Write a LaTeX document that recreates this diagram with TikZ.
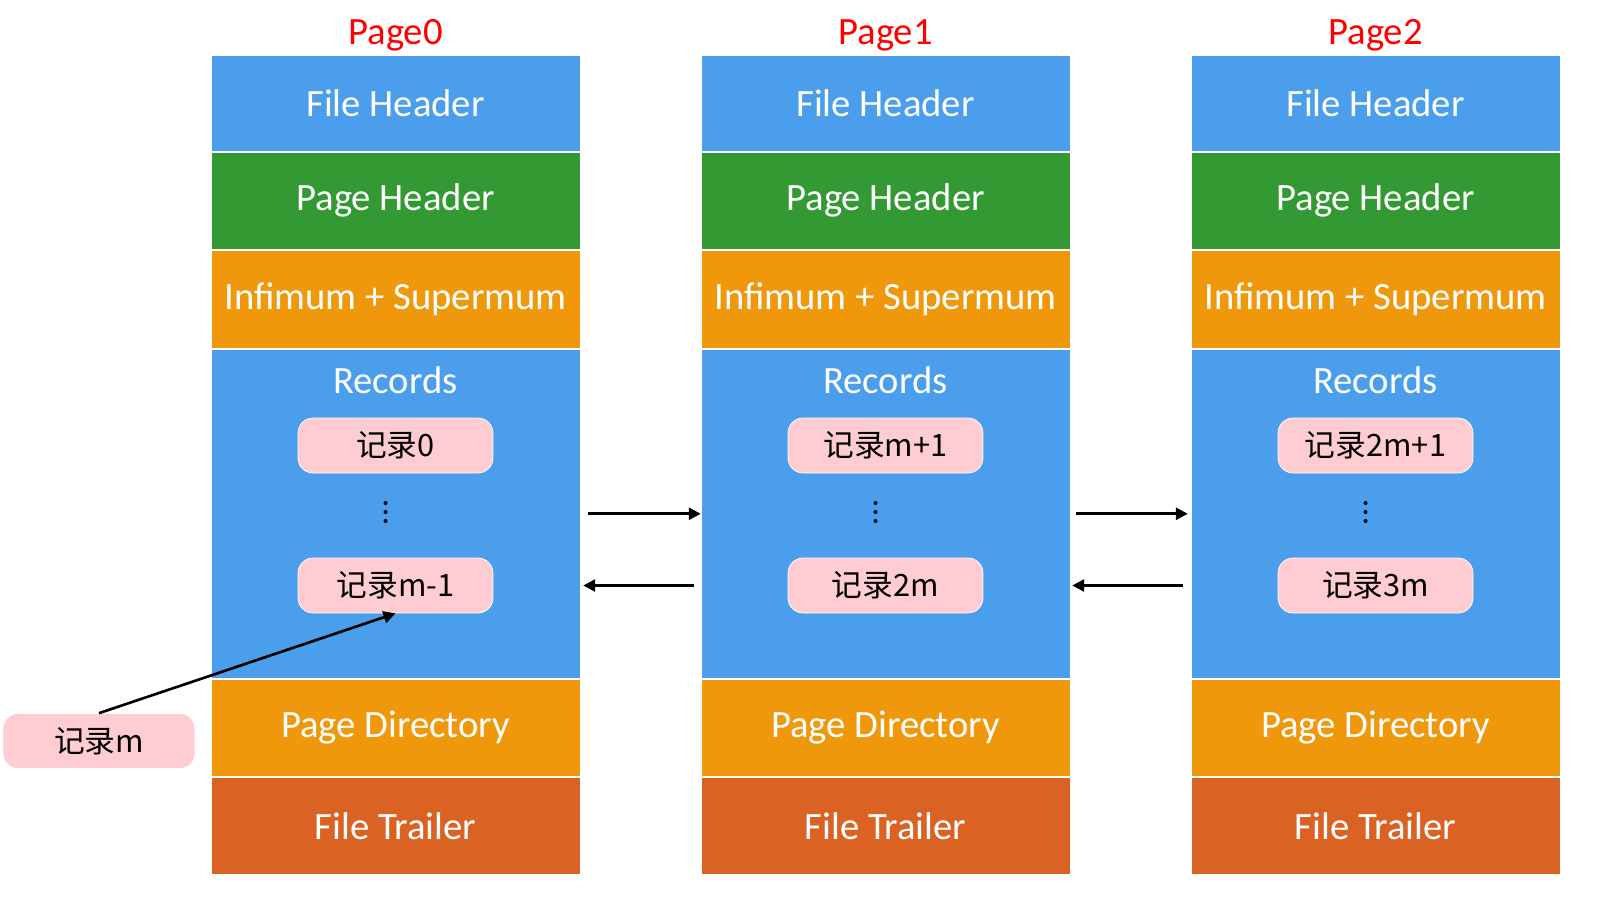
\documentclass[tikz,border=0pt]{standalone}
\usepackage{fontspec}
\setmainfont{Carlito}
\newfontfamily\cjk{Noto Sans CJK SC}
\usetikzlibrary{arrows.meta}

\definecolor{fhblue}{HTML}{4A9EEB}
\definecolor{phgreen}{HTML}{339933}
\definecolor{isorange}{HTML}{F0980C}
\definecolor{ftorange}{HTML}{DA6223}
\definecolor{recpink}{HTML}{FFCCD1}

\tikzset{
  block/.style={draw=white, line width=0.3pt, minimum width=7.38cm, inner sep=0pt,
    anchor=north, text=white, font=\fontsize{22}{26}\selectfont},
  recbox/.style={draw=white, line width=0.4pt, fill=recpink, rounded corners=0.3cm,
    minimum width=3.9cm, minimum height=1.1cm, inner sep=0pt,
    font=\cjk\fontsize{17.5}{20}\selectfont},
  link/.style={-{Triangle[length=0.24cm,width=0.24cm]}, line width=1.5pt}
}

\begin{document}
\begin{tikzpicture}[x=0.02cm, y=-0.02cm]
  \useasboundingbox (0,0) rectangle (1615,900);

  % three pages
  \foreach \i/\x/\ra/\rb in {0/395.5/记录0/记录m-1, 1/885.5/记录m+1/记录2m, 2/1375.5/记录2m+1/记录3m}{
    \node[text=red, font=\fontsize{22}{26}\selectfont] (pl\i) at (\x,35) {Page\i};
    \node[block, fill=fhblue, minimum height=1.92cm] (fh\i) at (\x,55) {File Header};
    \node[block, fill=phgreen, minimum height=1.96cm] (ph\i) at (fh\i.south) {Page Header};
    \node[block, fill=isorange, minimum height=1.96cm] (is\i) at (ph\i.south) {Infimum + Supermum};
    \node[block, fill=fhblue, minimum height=6.6cm] (rd\i) at (is\i.south) {};
    \node[block, fill=isorange, minimum height=1.94cm] (pd\i) at (rd\i.south) {Page Directory};
    \node[block, fill=ftorange, minimum height=1.96cm] (ft\i) at (pd\i.south) {File Trailer};
    \node[text=white, font=\fontsize{22}{26}\selectfont] (rl\i) at (\x,380) {Records};
    \node[recbox] (ra\i) at (\x,445.5) {\ra};
    \node[recbox] (rb\i) at (\x,585.5) {\rb};
    % dots
    \foreach \y in {503,512,521}
      \fill ([xshift=-0.2cm]\x,\y) circle [radius=0.04cm];
  }

  % links between pages
  \draw[link] ([xshift=0.16cm]rd0.east) -- (rd1.west);
  \draw[link] ([xshift=-0.14cm]rd1.west |- rb0) -- ([xshift=0.06cm]rd0.east |- rb0);
  \draw[link] ([xshift=0.12cm]rd1.east) -- ([xshift=-0.06cm]rd2.west);
  \draw[link] ([xshift=-0.16cm]rd2.west |- rb1) -- ([xshift=0.04cm]rd1.east |- rb1);

  % inserted record
  \node[recbox, minimum width=3.84cm] (rm) at (99,741) {记录m};
  \draw[link] (rm.north) -- (rb0.south);
\end{tikzpicture}
\end{document}
